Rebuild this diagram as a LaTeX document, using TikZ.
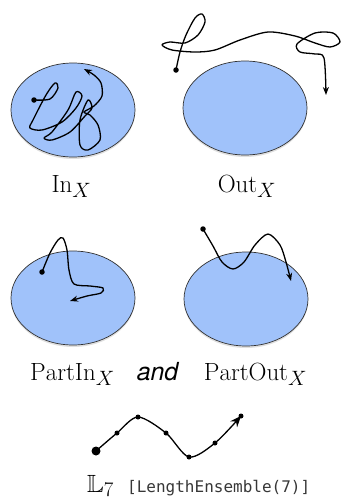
\documentclass[tikz,border=0pt]{standalone}
\usepackage{amssymb}
\usepackage{fontspec}
\newfontfamily\heros{TeX Gyre Heros}
\newfontfamily\codefont{DejaVu Sans Mono}
\usetikzlibrary{arrows.meta,shapes.geometric,shadows}
\definecolor{regionBlue}{RGB}{160,194,250}
\definecolor{rimGray}{RGB}{50,50,50}
\definecolor{codeGray}{RGB}{55,55,55}

\begin{document}
\begin{tikzpicture}[
  x=1pt, y=-1pt,
  region/.style={ellipse, fill=regionBlue, draw=rimGray, line width=0.7pt,
                 minimum width=124pt, minimum height=94pt, inner sep=0pt,
                 drop shadow={shadow xshift=0pt, shadow yshift=-2pt, opacity=0.25}},
  walk/.style={line width=1.3pt, line join=round, -{Stealth[length=8pt,width=6pt]}},
  start/.style={circle, fill=black, inner sep=0pt, minimum size=5.5pt},
  bead/.style={circle, fill=black, inner sep=0pt, minimum size=5pt},
  setname/.style={font=\Huge, anchor=base},
]
\useasboundingbox (0,0) rectangle (342,501);

% Row 1: In / Out
\node[region] (in) at (73,110) {};
\node[region] (out) at (245,108) {};
\draw[walk] plot[smooth] coordinates {(34,100) (50,99) (58,88) (55,83) (46,95)
  (33,120) (30,128) (42,130) (62,122) (76,108) (82,96) (76,92) (68,110) (52,132)
  (44,138) (52,140) (70,132) (85,116) (92,108) (88,100) (80,120) (80,145) (88,150)
  (100,140) (98,125) (90,115) (84,112) (94,106) (102,96) (101,83) (94,75) (84,69)};
\node[start] (inStart) at (34,100) {};
\draw[walk] plot[smooth] coordinates {(176,70) (180,52) (186,35) (195,18) (202,14)
  (205,22) (198,35) (185,43) (170,42) (162,45) (172,50) (195,52) (215,50) (240,40)
  (268,32) (295,36) (315,43) (330,47) (340,42) (333,33) (315,33) (297,44) (300,52)
  (315,54) (324,58) (326,95)};
\node[start] (outStart) at (176,70) {};
\node[setname] (inName) at (71.5,192) {$\mathrm{In}_X$};
\node[setname] (outName) at (247,192) {$\mathrm{Out}_X$};

% Row 2: PartIn / PartOut
\node[region] (partIn) at (73,298) {};
\node[region] (partOut) at (246,299) {};
\draw[walk] plot[smooth] coordinates {(42,272) (50,253) (58,240) (63,238) (67,250)
  (69,270) (74,284) (90,286) (103,288) (101,293) (87,296) (70,301)};
\node[start] (partInStart) at (42,272) {};
\draw[walk] plot[smooth] coordinates {(203,229) (213,246) (222,262) (233,269)
  (244,262) (255,245) (268,234) (280,245) (286,262) (291,281)};
\node[start] (partOutStart) at (203,229) {};
\node[setname] (partInName) at (72.5,380) {$\mathrm{PartIn}_X$};
\node[setname, font=\Huge\heros\itshape] (andWord) at (157.5,380) {and};
\node[setname] (partOutName) at (255.5,380) {$\mathrm{PartOut}_X$};

% Row 3: length ensemble
\draw[line width=1.3pt, -{Stealth[length=11pt,width=9pt]}] plot[smooth] coordinates
  {(96,451) (117,433) (138,417) (166,433) (189,457) (215,443) (241,416)};
\node[start, minimum size=9pt] (chainStart) at (96,451) {};
\foreach \x/\y [count=\i] in {117/433, 138/417, 166/433, 189/457, 215/443, 241/416}
  \node[bead] (b\i) at (\x,\y) {};
\node[anchor=base west, inner sep=0pt, font=\Huge] (ensName) at (87,492) {$\mathbb{L}_7$};
\node[anchor=base west, inner sep=0pt, text=codeGray,
      font=\fontsize{16}{19}\selectfont\codefont] (ensCode) at (127,492) {[LengthEnsemble(7)]};

\end{tikzpicture}
\end{document}
